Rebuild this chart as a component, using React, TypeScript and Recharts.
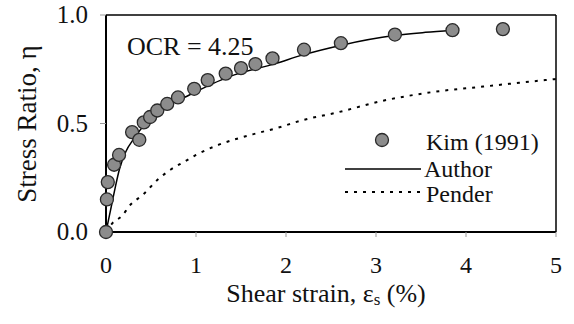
import React from 'react';
import { ComposedChart, Line, Scatter, XAxis, YAxis, ReferenceLine } from 'recharts';

// Kim (1991) measured points
const kimStrain = [0, 0.01, 0.02, 0.09, 0.145, 0.29, 0.37, 0.42, 0.49, 0.57, 0.68, 0.8, 0.98, 1.13, 1.33, 1.5, 1.66, 1.85, 2.2, 2.61, 3.21, 3.85, 4.41];
const kimRatio = [0, 0.15, 0.23, 0.31, 0.355, 0.46, 0.425, 0.505, 0.53, 0.56, 0.59, 0.62, 0.66, 0.7, 0.73, 0.755, 0.774, 0.8, 0.84, 0.87, 0.91, 0.93, 0.935];

// Author model curve
const authorStrain = [0, 0.05, 0.1, 0.15, 0.22, 0.31, 0.55, 0.92, 1.37, 1.89, 2.18, 2.63, 3.2, 3.55, 3.85];
const authorRatio = [0, 0.1, 0.2, 0.29, 0.37, 0.43, 0.547, 0.63, 0.716, 0.777, 0.815, 0.862, 0.905, 0.92, 0.93];

// Pender model curve
const penderStrain = [0, 0.07, 0.18, 0.26, 0.42, 0.57, 0.72, 0.87, 1.0, 1.24, 1.63, 1.89, 2.19, 2.56, 3.08, 3.63, 4.19, 4.88, 5.0];
const penderRatio = [0, 0.04, 0.075, 0.12, 0.175, 0.24, 0.288, 0.324, 0.355, 0.4, 0.45, 0.478, 0.516, 0.55, 0.605, 0.645, 0.67, 0.7, 0.705];

const xTicks = [0, 1, 2, 3, 4, 5];
const yTicks = [0, 0.5, 1.0];

const kimData = kimStrain.map((x, i) => ({ x, y: kimRatio[i] }));
const authorData = authorStrain.map((x, i) => ({ x, y: authorRatio[i] }));
const penderData = penderStrain.map((x, i) => ({ x, y: penderRatio[i] }));

const serif = 'Liberation Serif, DejaVu Serif, serif';

const Dot = (props: any) => {
  const { cx, cy } = props;
  return <circle cx={cx} cy={cy} r={6.5} fill="#8c8c8c" stroke="#2a2a2a" strokeWidth={1.3} />;
};

// custom tick texts so the serif font and spacing are exact
const XTick = (props: any) => (
  <text x={props.x} y={273} textAnchor="middle" fontSize={24} fontFamily={serif} fill="#111">
    {props.payload.value}
  </text>
);

const YTick = (props: any) => (
  <text x={88} y={props.y + 8} textAnchor="end" fontSize={25} fontFamily={serif} fill="#111">
    {Number(props.payload.value).toFixed(1)}
  </text>
);

export default function App() {
  return (
    <div style={{ position: 'absolute', left: 0, top: 0, width: 574, height: 324, background: '#fff', fontFamily: serif }}>
      <ComposedChart width={574} height={324} margin={{ top: 15, right: 18, left: 0, bottom: 0 }}>
        <XAxis
          type="number"
          dataKey="x"
          domain={[0, 5]}
          ticks={xTicks}
          height={92}
          tickSize={5}
          tickLine={{ stroke: '#999' }}
          axisLine={{ stroke: '#000', strokeWidth: 2 }}
          tick={XTick}
        />
        <YAxis
          type="number"
          dataKey="y"
          domain={[0, 1]}
          ticks={yTicks}
          width={106}
          tickSize={6}
          tickLine={{ stroke: '#999' }}
          axisLine={{ stroke: '#000', strokeWidth: 2 }}
          tick={YTick}
        />
        <ReferenceLine y={1} stroke="#000" strokeWidth={1.5} />
        <ReferenceLine x={5} stroke="#000" strokeWidth={1.5} />
        <Line
          data={penderData}
          dataKey="y"
          type="monotone"
          stroke="#000"
          strokeWidth={2}
          strokeDasharray="3 6"
          dot={false}
          isAnimationActive={false}
        />
        <Line
          data={authorData}
          dataKey="y"
          type="monotone"
          stroke="#000"
          strokeWidth={1.5}
          dot={false}
          isAnimationActive={false}
        />
        <Scatter data={kimData} dataKey="y" shape={Dot} isAnimationActive={false} />

        <text x={127} y={55} fontSize={26} fontFamily={serif} fill="#111">OCR = 4.25</text>

        {/* legend */}
        <circle cx={382} cy={140} r={6.5} fill="#8c8c8c" stroke="#2a2a2a" strokeWidth={1.3} />
        <text x={426} y={150} fontSize={24} fontFamily={serif} fill="#111">Kim (1991)</text>
        <line x1={345} x2={421} y1={169} y2={169} stroke="#000" strokeWidth={1.5} />
        <text x={424} y={177} fontSize={24} fontFamily={serif} fill="#111">Author</text>
        <line x1={345} x2={421} y1={192} y2={192} stroke="#000" strokeWidth={2} strokeDasharray="3 6" />
        <text x={426} y={202} fontSize={24} fontFamily={serif} fill="#111">Pender</text>

        {/* axis titles */}
        <text x={326} y={302} textAnchor="middle" fontSize={26} fontFamily={serif} fill="#111">
          Shear strain, ε<tspan fontSize={17} dy={3}>s</tspan><tspan dy={-3}> (%)</tspan>
        </text>
        <text
          x={36}
          y={124}
          textAnchor="middle"
          transform="rotate(-90 36 124)"
          fontSize={27}
          fontFamily={serif}
          fill="#111"
        >
          Stress Ratio, η
        </text>
      </ComposedChart>
    </div>
  );
}
